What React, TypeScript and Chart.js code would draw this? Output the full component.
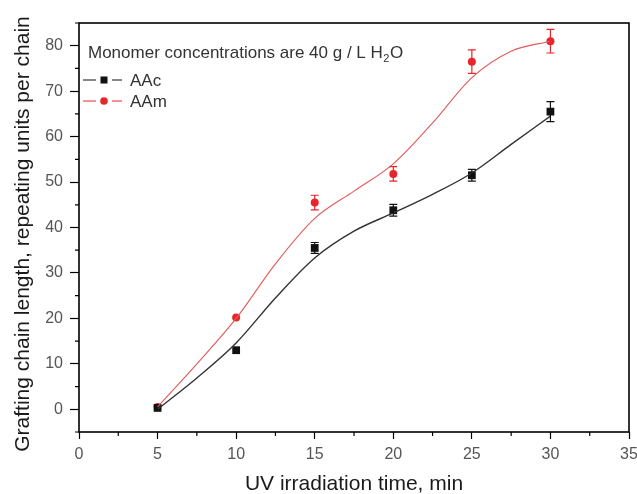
import React, { useEffect, useRef } from "react";
import { Chart, registerables } from "chart.js";
Chart.register(...registerables);

const times = [5, 10, 15, 20, 25, 30];
const aacValues = [0.3, 13, 35.5, 43.8, 51.5, 65.5];
const aacErrors = [0, 0, 1.2, 1.3, 1.3, 2.2];
const aamValues = [0.5, 20.2, 45.5, 51.8, 76.5, 81];
const aamErrors = [0, 0, 1.6, 1.6, 2.6, 2.6];
const fitTimes = [5, 7.5, 10, 12.5, 15, 17.5, 20, 22.5, 25, 27.5, 30];
const aacFit = [0, 6.9, 14.6, 24.5, 33.3, 39.2, 43.2, 47.3, 52, 58.3, 64.5];
const aamFit = [0.5, 10, 20, 32, 42, 48, 54, 63, 73, 78.8, 81];
const xTickLabels = [0, 5, 10, 15, 20, 25, 30, 35];
const yTickLabels = [0, 10, 20, 30, 40, 50, 60, 70, 80];
const xTitle = "UV irradiation time, min";
const yTitle = "Grafting chain length, repeating units per chain";
const noteText = "Monomer concentrations are 40 g / L H";

const BLACK = "#111111";
const RED = "#e8262a";
const FONT = "'Liberation Sans', Arial, sans-serif";

const decorPlugin = {
  id: "decor",
  afterDatasetsDraw(chart: any) {
    const ctx = chart.ctx;
    const xs = chart.scales.x;
    const ys = chart.scales.y;
    const area = chart.chartArea;
    ctx.save();
    // error bars
    const drawErr = (vals: number[], errs: number[], color: string) => {
      ctx.strokeStyle = color;
      ctx.lineWidth = 1.2;
      times.forEach((t, i) => {
        if (!errs[i]) return;
        const px = xs.getPixelForValue(t);
        const top = ys.getPixelForValue(vals[i] + errs[i]);
        const bot = ys.getPixelForValue(vals[i] - errs[i]);
        ctx.beginPath();
        ctx.moveTo(px, top);
        ctx.lineTo(px, bot);
        ctx.moveTo(px - 4, top);
        ctx.lineTo(px + 4, top);
        ctx.moveTo(px - 4, bot);
        ctx.lineTo(px + 4, bot);
        ctx.stroke();
      });
    };
    drawErr(aacValues, aacErrors, BLACK);
    drawErr(aamValues, aamErrors, RED);

    // frame
    ctx.strokeStyle = "#000";
    ctx.lineWidth = 1.6;
    ctx.strokeRect(area.left, area.top, area.right - area.left, area.bottom - area.top);

    // minor ticks
    ctx.lineWidth = 1.2;
    ctx.beginPath();
    for (let v = 2.5; v < 35; v += 5) {
      const px = xs.getPixelForValue(v);
      ctx.moveTo(px, area.bottom);
      ctx.lineTo(px, area.bottom + 4);
    }
    for (let v = -5; v <= 85; v += 10) {
      const py = ys.getPixelForValue(v);
      ctx.moveTo(area.left, py);
      ctx.lineTo(area.left - 4, py);
    }
    ctx.stroke();

    // axis titles
    ctx.fillStyle = "#1a1a1a";
    ctx.font = `21px ${FONT}`;
    ctx.textAlign = "center";
    ctx.textBaseline = "middle";
    ctx.fillText(xTitle, (area.left + area.right) / 2, 484);
    ctx.save();
    ctx.translate(23, 234);
    ctx.rotate(-Math.PI / 2);
    ctx.fillText(yTitle, 0, 0);
    ctx.restore();

    // annotation text
    const tx = area.left + 9;
    ctx.fillStyle = "#333";
    ctx.font = `17px ${FONT}`;
    ctx.textBaseline = "alphabetic";
    ctx.textAlign = "left";
    ctx.fillText(noteText, tx, 58);
    const w = ctx.measureText(noteText).width;
    ctx.font = `11px ${FONT}`;
    ctx.fillText("2", tx + w + 0.5, 62);
    const w2 = ctx.measureText("2").width;
    ctx.font = `17px ${FONT}`;
    ctx.fillText("O", tx + w + w2 + 1, 58);

    // legend
    const legend = [
      { label: "AAc", color: BLACK, style: "rect", y: 80 },
      { label: "AAm", color: RED, style: "circle", y: 101 },
    ];
    legend.forEach((l) => {
      ctx.strokeStyle = l.color;
      ctx.lineWidth = 1;
      ctx.beginPath();
      ctx.moveTo(tx - 5, l.y);
      ctx.lineTo(tx + 8, l.y);
      ctx.moveTo(tx + 24, l.y);
      ctx.lineTo(tx + 34, l.y);
      ctx.stroke();
      ctx.fillStyle = l.color;
      if (l.style === "rect") {
        ctx.fillRect(tx + 12.5, l.y - 3.5, 7, 7);
      } else {
        ctx.beginPath();
        ctx.arc(tx + 16, l.y, 3.8, 0, Math.PI * 2);
        ctx.fill();
      }
      ctx.fillStyle = "#333";
      ctx.font = `17px ${FONT}`;
      ctx.textBaseline = "middle";
      ctx.fillText(l.label, tx + 42, l.y + 1);
    });
    ctx.restore();
  },
};

export default function App() {
  const ref = useRef<HTMLCanvasElement>(null);
  useEffect(() => {
    document.body.style.margin = "0";
    const canvas = ref.current!;
    const chart = new Chart(canvas, {
      type: "line",
      data: {
        datasets: [
          {
            label: "AAc fit",
            data: fitTimes.map((t, i) => ({ x: t, y: aacFit[i] })),
            borderColor: "#333",
            borderWidth: 1.4,
            pointRadius: 0,
            cubicInterpolationMode: "monotone",
            fill: false,
          },
          {
            label: "AAm fit",
            data: fitTimes.map((t, i) => ({ x: t, y: aamFit[i] })),
            borderColor: "#e35a5a",
            borderWidth: 1.1,
            pointRadius: 0,
            cubicInterpolationMode: "monotone",
            fill: false,
          },
          {
            label: "AAc",
            data: times.map((t, i) => ({ x: t, y: aacValues[i] })),
            showLine: false,
            pointStyle: "rect",
            pointRadius: 5.5,
            pointBackgroundColor: BLACK,
            pointBorderColor: BLACK,
            pointBorderWidth: 0,
          },
          {
            label: "AAm",
            data: times.map((t, i) => ({ x: t, y: aamValues[i] })),
            showLine: false,
            pointStyle: "circle",
            pointRadius: 4,
            pointBackgroundColor: RED,
            pointBorderColor: RED,
            pointBorderWidth: 0,
          },
        ],
      },
      options: {
        animation: false,
        responsive: false,
        maintainAspectRatio: false,
        layout: { padding: { left: 0, right: 8, top: 23, bottom: 0 } },
        plugins: { legend: { display: false }, tooltip: { enabled: false } },
        scales: {
          x: {
            type: "linear",
            min: 0,
            max: 35,
            afterFit: (s: any) => {
              s.height = 62;
              s.paddingRight = 0;
              s.paddingLeft = 0;
            },
            afterBuildTicks: (s: any) => {
              s.ticks = xTickLabels.map((v) => ({ value: v }));
            },
            ticks: {
              color: "#555",
              font: { family: FONT, size: 16 },
              padding: 6,
              maxRotation: 0,
            },
            grid: {
              display: true,
              drawOnChartArea: false,
              drawTicks: true,
              tickLength: 7,
              tickColor: "#000",
              tickWidth: 1.2,
            },
            border: { display: false },
            title: { display: false },
          },
          y: {
            type: "linear",
            min: -5,
            max: 85,
            afterFit: (s: any) => {
              s.width = 79;
              s.paddingTop = 0;
              s.paddingBottom = 0;
            },
            afterBuildTicks: (s: any) => {
              s.ticks = yTickLabels.map((v) => ({ value: v }));
            },
            ticks: {
              color: "#555",
              font: { family: FONT, size: 16 },
              padding: 7,
            },
            grid: {
              display: true,
              drawOnChartArea: false,
              drawTicks: true,
              tickLength: 9,
              tickColor: "#000",
              tickWidth: 1.2,
            },
            border: { display: false },
            title: { display: false },
          },
        },
      },
      plugins: [decorPlugin],
    } as any);
    return () => chart.destroy();
  }, []);
  return (
    <div style={{ position: "relative", width: 637, height: 494, background: "#fff" }}>
      <canvas ref={ref} width={637} height={494} style={{ width: 637, height: 494, display: "block" }} />
    </div>
  );
}
